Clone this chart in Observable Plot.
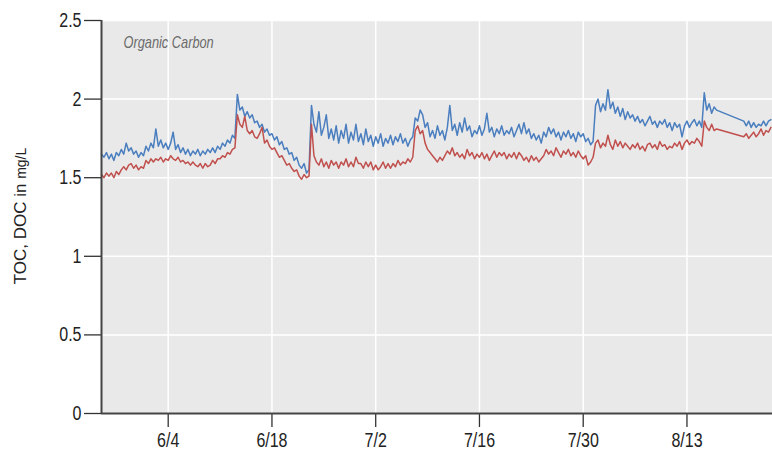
<!DOCTYPE html>
<html>
<head>
<meta charset="utf-8">
<script src="https://cdn.jsdelivr.net/npm/d3@7"></script>
<script src="https://cdn.jsdelivr.net/npm/@observablehq/plot@0.6"></script>
<style>
  html, body { margin: 0; padding: 0; background: #ffffff; }
  #chart svg { display: block; }
</style>
</head>
<body>
<div id="chart"></div>
<script>
// Samples every 8 hours starting 2015-05-26 00:00 UTC (null = no data), one row per day
const startDate = Date.UTC(2015, 4, 26);
const stepHours = 8;

const tocValues = [
  1.65,1.63,1.66, 1.62,1.65,1.61, 1.66,1.64,1.68, 1.65,1.72,1.67, 1.69,1.65,1.67,
  1.63,1.66,1.64, 1.70,1.67,1.72, 1.69,1.81,1.70, 1.74,1.69,1.72, 1.68,1.72,1.79,
  1.68,1.71,1.66, 1.69,1.65,1.68, 1.64,1.67,1.65, 1.68,1.64,1.67, 1.65,1.68,1.66,
  1.69,1.66,1.70, 1.68,1.72,1.70, 1.74,1.72,1.77, 1.75,2.03,1.93, 1.95,1.89,1.92,
  1.88,1.90,1.85, 1.86,1.82,1.84, 1.79,1.81,1.77, 1.78,1.74,1.76, 1.71,1.73,1.68,
  1.69,1.65,1.66, 1.61,1.63,1.58, 1.56,1.59,1.53, 1.55,1.96,1.84, 1.79,1.92,1.77,
  1.82,1.90,1.75, 1.81,1.74,1.83, 1.72,1.80,1.75, 1.84,1.72,1.79, 1.74,1.84,1.73,
  1.78,1.71,1.81, 1.73,1.77,1.70, 1.76,1.72,1.78, 1.70,1.75,1.72, 1.77,1.71,1.76,
  1.73,1.78,1.72, 1.75,1.70,1.74, 1.76,1.88,1.86, 1.93,1.90,1.82, 1.85,1.76,1.80,
  1.75,1.83,1.77, 1.80,1.74,1.82, 1.96,1.80,1.84, 1.77,1.85,1.79, 1.88,1.80,1.83,
  1.76,1.80,1.78, 1.83,1.77,1.81, 1.91,1.79,1.82, 1.76,1.81,1.78, 1.83,1.77,1.80,
  1.78,1.82,1.76, 1.80,1.84,1.78, 1.85,1.78,1.81, 1.75,1.78,1.74, 1.77,1.72,1.79,
  1.76,1.82,1.78, 1.81,1.76,1.79, 1.74,1.79,1.76, 1.80,1.75,1.78, 1.73,1.79,1.76,
  1.78,1.73,1.75, 1.71,1.73,1.96, 2.00,1.92,1.97, 1.93,2.06,1.94, 1.98,1.91,1.95,
  1.89,1.94,1.87, 1.92,1.88,1.90, 1.86,1.89,1.85, 1.87,1.83,1.86, 1.89,1.84,1.86,
  1.82,1.86,1.84, 1.87,1.82,1.85, 1.80,1.85,1.82, 1.84,1.76,1.83, 1.86,1.82,1.85,
  1.87,1.83,1.86, 1.82,2.04,1.93, 1.97,1.91,1.95, 1.93,null,null, null,null,null,
  null,null,null, null,null,1.86, 1.83,1.86,1.82, 1.85,1.82,1.84, 1.83,1.86,1.83,
  1.86,1.87
];

const docValues = [
  1.52,1.50,1.53, 1.51,1.53,1.50, 1.54,1.52,1.55, 1.57,1.55,1.58, 1.59,1.56,1.58,
  1.55,1.57,1.56, 1.61,1.59,1.62, 1.60,1.62,1.61, 1.63,1.60,1.62, 1.61,1.64,1.62,
  1.61,1.63,1.60, 1.61,1.59,1.60, 1.58,1.60,1.58, 1.57,1.59,1.56, 1.59,1.57,1.58,
  1.61,1.59,1.62, 1.62,1.64,1.63, 1.66,1.65,1.68, 1.69,1.90,1.84, 1.82,1.89,1.80,
  1.78,1.80,1.76, 1.75,1.78,1.82, 1.72,1.74,1.70, 1.68,1.69,1.66, 1.63,1.64,1.61,
  1.58,1.59,1.56, 1.54,1.55,1.51, 1.49,1.52,1.50, 1.51,1.84,1.64, 1.60,1.58,1.62,
  1.57,1.60,1.56, 1.61,1.58,1.60, 1.56,1.60,1.58, 1.62,1.57,1.60, 1.57,1.63,1.59,
  1.59,1.56,1.60, 1.57,1.60,1.55, 1.58,1.55,1.57, 1.60,1.56,1.59, 1.56,1.59,1.57,
  1.61,1.58,1.60, 1.59,1.62,1.60, 1.63,1.80,1.83, 1.78,1.80,1.72, 1.68,1.66,1.64,
  1.62,1.60,1.63, 1.61,1.64,1.67, 1.65,1.69,1.64, 1.66,1.63,1.65, 1.62,1.68,1.64,
  1.66,1.62,1.65, 1.63,1.66,1.62, 1.65,1.61,1.64, 1.67,1.63,1.66, 1.64,1.66,1.62,
  1.65,1.63,1.66, 1.62,1.66,1.64, 1.61,1.63,1.60, 1.64,1.61,1.63, 1.60,1.62,1.64,
  1.68,1.65,1.67, 1.64,1.69,1.66, 1.63,1.67,1.65, 1.68,1.64,1.66, 1.63,1.67,1.64,
  1.62,1.64,1.58, 1.60,1.63,1.72, 1.74,1.69,1.72, 1.70,1.77,1.71, 1.68,1.74,1.70,
  1.73,1.69,1.72, 1.70,1.68,1.71, 1.69,1.72,1.68, 1.70,1.67,1.71, 1.72,1.69,1.71,
  1.68,1.73,1.70, 1.71,1.68,1.70, 1.69,1.72,1.70, 1.73,1.68,1.72, 1.74,1.71,1.73,
  1.72,1.75,1.73, 1.70,1.86,1.82, 1.80,1.84,1.80, 1.81,null,null, null,null,null,
  null,null,null, null,null,1.76, 1.78,1.75,1.77, 1.79,1.76,1.78, 1.81,1.77,1.80,
  1.79,1.82
];

const yTicks = [0, 0.5, 1, 1.5, 2, 2.5];
const xTickLabels = ["2015-06-04", "2015-06-18", "2015-07-02", "2015-07-16", "2015-07-30", "2015-08-13"];
const xDomainLabels = ["2015-05-26T00:00Z", "2015-08-24T13:00Z"];
const annotation = "Organic Carbon";
const yLabelMain = "TOC, DOC in";
const yLabelUnit = "mg/L";

const toRows = (vals, series) => vals
  .map((v, i) => ({date: new Date(startDate + i * stepHours * 3600e3), value: v, series}))
  .filter(d => d.value != null);

const tocRows = toRows(tocValues, "TOC");
const docRows = toRows(docValues, "DOC");
const xTicks = xTickLabels.map(s => new Date(s + "T00:00Z"));
const xDomain = xDomainLabels.map(s => new Date(s));

const fmtX = d => `${d.getUTCMonth() + 1}/${d.getUTCDate()}`;
const fmtY = d3.format("~g");
const sans = "'Liberation Sans', Arial, sans-serif";

const plot = Plot.plot({
  width: 772,
  height: 453,
  marginLeft: 101,
  marginRight: 0,
  marginTop: 20,
  marginBottom: 40,
  style: {fontFamily: sans, fontSize: "20px", color: "#222", background: "transparent"},
  x: {type: "utc", domain: xDomain},
  y: {domain: [0, 2.5]},
  marks: [
    Plot.frame({fill: "#e9e9e9", stroke: null}),
    Plot.gridX(xTicks, {stroke: "#ffffff", strokeOpacity: 1, strokeWidth: 1.5}),
    Plot.gridY(yTicks, {stroke: "#ffffff", strokeOpacity: 1, strokeWidth: 1.5}),
    Plot.axisY(yTicks, {tickSize: 17, tickPadding: 3, stroke: "#333", strokeWidth: 1.3, label: null, tickFormat: fmtY, fontSize: 20, fill: "#222"}),
    Plot.axisX(xTicks, {tickSize: 14, tickPadding: 5, stroke: "#333", strokeWidth: 1.3, label: null, tickFormat: fmtX, fontSize: 20, fill: "#222"}),
    Plot.line(tocRows, {x: "date", y: "value", stroke: "#4a7ebf", strokeWidth: 1.5}),
    Plot.line(docRows, {x: "date", y: "value", stroke: "#c0504d", strokeWidth: 1.5}),
    Plot.ruleX([xDomain[0]], {stroke: "#444", strokeWidth: 2}),
    Plot.ruleY([0], {stroke: "#444", strokeWidth: 2}),
    Plot.text([annotation], {frameAnchor: "top-left", textAnchor: "start", lineAnchor: "top", dx: 22, dy: 16,
      fontStyle: "italic", fontSize: 16, fill: "#6b6b6b", fontFamily: sans})
  ]
});

document.getElementById("chart").appendChild(plot);

const svg = d3.select(plot);
// condense tick labels and annotation horizontally, like the reference's narrow face
svg.selectAll("g[aria-label$='tick label'] text, g[aria-label='text'] text").each(function () {
  const t = this.getAttribute("transform");
  if (t) this.setAttribute("transform", t + " scale(0.8,1)");
});

const lbl = svg.append("text")
  .attr("transform", "translate(26,216) rotate(-90)")
  .attr("text-anchor", "middle")
  .attr("fill", "#222")
  .style("font-family", sans);
lbl.append("tspan").attr("font-size", 17).text(yLabelMain + " ");
lbl.append("tspan").attr("font-size", 14).text(yLabelUnit);
</script>
</body>
</html>
